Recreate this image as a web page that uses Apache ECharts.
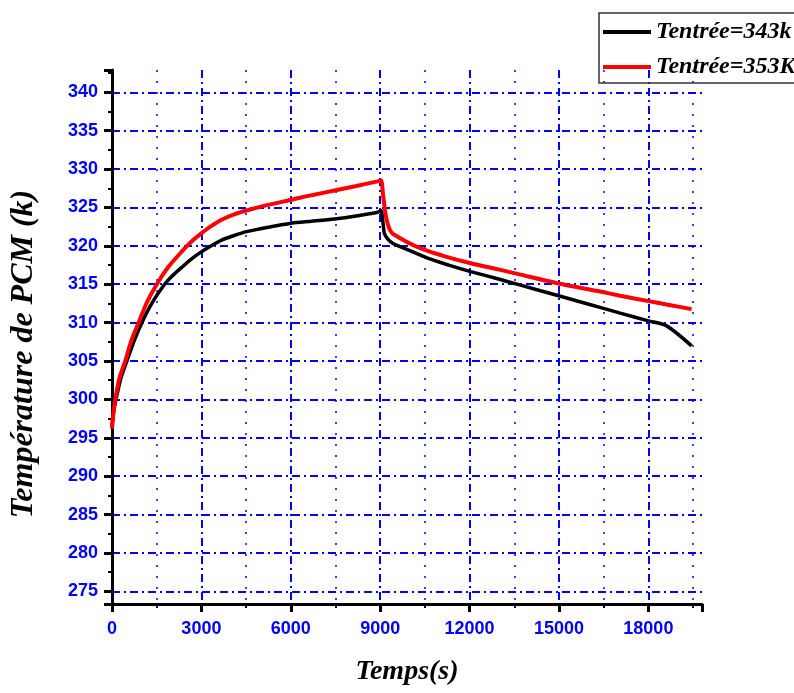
<!DOCTYPE html>
<html>
<head>
<meta charset="utf-8">
<script src="https://cdn.jsdelivr.net/npm/echarts@6/dist/echarts.min.js"></script>
<style>
  html, body { margin: 0; padding: 0; background: #fff; }
  #chart { width: 794px; height: 693px; }
</style>
</head>
<body>
<div id="chart"></div>
<script>
// Tentrée = 343 K (black curve)
const time343 = [0, 60, 134, 300, 500, 750, 1003, 1350, 1728, 2000, 2340, 2650, 3009, 3300, 3678, 4100, 4514, 5200, 6019, 6700, 7467, 8200, 8917, 9030, 9100, 9140, 9250, 9418, 9800, 10590, 11300, 12037, 13000, 13709, 14990, 16000, 17053, 18000, 18614, 19450]
const temp343 = [296.5, 298.5, 300, 302.8, 305, 307.7, 310, 312.6, 314.8, 316.0, 317.2, 318.25, 319.25, 319.95, 320.75, 321.35, 321.85, 322.4, 322.95, 323.2, 323.5, 323.9, 324.38, 324.6, 322.8, 321.65, 320.9, 320.35, 319.7, 318.4, 317.5, 316.65, 315.65, 314.88, 313.5, 312.4, 311.24, 310.23, 309.58, 306.98]

// Tentrée = 353 K (red curve)
const time353 = [0, 50, 110, 250, 445, 650, 892, 1180, 1505, 1900, 2340, 2650, 3009, 3300, 3678, 4100, 4514, 5200, 6019, 6700, 7467, 8200, 8917, 9030, 9100, 9195, 9300, 9418, 9585, 10000, 10400, 11200, 12037, 13000, 13709, 14990, 16384, 17053, 18000, 18700, 19450]
const temp353 = [296.2, 298.3, 300, 302.8, 305, 307.7, 310, 312.7, 315, 317.3, 319.25, 320.5, 321.65, 322.5, 323.4, 324.1, 324.6, 325.3, 326.0, 326.6, 327.2, 327.8, 328.4, 328.5, 326.5, 323.8, 322.3, 321.6, 321.2, 320.3, 319.6, 318.6, 317.74, 316.9, 316.25, 315.1, 314.05, 313.5, 312.8, 312.3, 311.76]

const seriesNames = ['Tentrée=343k', 'Tentrée=353K']
const seriesColors = ['#000000', '#ff0000']

const chart = echarts.init(document.getElementById('chart'))

const toPairs = (xs, ys) => xs.map((x, i) => [x, ys[i]])
const dashDot = [8, 4, 2, 4]
const tickFont = {
  color: '#0000ff',
  fontWeight: 'bold',
  fontSize: 18,
  fontFamily: '"Liberation Sans Narrow", "Arial Narrow", "Liberation Sans", sans-serif'
}
const titleFont = {
  color: '#000',
  fontWeight: 'bold',
  fontStyle: 'italic',
  fontFamily: '"Liberation Serif", "Times New Roman", serif'
}

chart.setOption({
  backgroundColor: '#fff',
  animation: false,
  grid: {
    left: 110,
    right: 92,
    top: 70,
    bottom: 89
  },
  legend: {
    orient: 'vertical',
    left: 599,
    top: 13,
    padding: [6, 6, 3, 4],
    itemGap: 9,
    itemWidth: 48,
    itemHeight: 4,
    icon: 'rect',
    borderColor: '#333',
    borderWidth: 1.5,
    textStyle: Object.assign({}, titleFont, { fontSize: 24, lineHeight: 26 }),
    data: seriesNames
  },
  xAxis: {
    type: 'value',
    min: 0,
    max: 19800,
    interval: 3000,
    name: 'Temps(s)',
    nameLocation: 'middle',
    nameGap: 54,
    nameTextStyle: Object.assign({}, titleFont, { fontSize: 28 }),
    axisLine: { onZero: false, lineStyle: { color: '#000', width: 3 } },
    axisTick: { show: true, length: 8, lineStyle: { color: '#000', width: 3 } },
    minorTick: { show: true, splitNumber: 2, length: 4, lineStyle: { color: '#000', width: 2 } },
    axisLabel: Object.assign({}, tickFont, {
      margin: 16,
      showMaxLabel: false,
      formatter: v => String(v)
    }),
    splitLine: {
      show: true,
      showMinLine: false,
      showMaxLine: false,
      lineStyle: { color: '#0000ff', width: 2, type: dashDot }
    },
    minorSplitLine: {
      show: true,
      lineStyle: { color: '#0000ff', width: 1.5, type: [2, 9] }
    }
  },
  yAxis: {
    type: 'value',
    min: 273.36,
    max: 342.9,
    splitNumber: 14,
    name: 'Température de PCM (k)',
    nameLocation: 'middle',
    nameGap: 72,
    nameRotate: 90,
    nameTextStyle: Object.assign({}, titleFont, { fontSize: 32, padding: [0, 34, 0, 0] }),
    axisLine: { onZero: false, lineStyle: { color: '#000', width: 3 } },
    axisTick: { show: true, length: 8, lineStyle: { color: '#000', width: 3 } },
    minorTick: { show: true, splitNumber: 2, length: 4, lineStyle: { color: '#000', width: 2 } },
    axisLabel: Object.assign({}, tickFont, { margin: 14, showMinLabel: false, showMaxLabel: false }),
    splitLine: {
      show: true,
      showMinLine: false,
      showMaxLine: false,
      lineStyle: { color: '#0000ff', width: 2, type: dashDot }
    },
    minorSplitLine: { show: false }
  },
  series: [
    {
      name: seriesNames[0],
      type: 'line',
      showSymbol: false,
      symbol: 'none',
      smooth: 0.25,
      data: toPairs(time343, temp343),
      lineStyle: { color: seriesColors[0], width: 3.5 },
      itemStyle: { color: seriesColors[0] },
      z: 3
    },
    {
      name: seriesNames[1],
      type: 'line',
      showSymbol: false,
      symbol: 'none',
      smooth: 0.25,
      data: toPairs(time353, temp353),
      lineStyle: { color: seriesColors[1], width: 4 },
      itemStyle: { color: seriesColors[1] },
      z: 4
    }
  ]
})
</script>
</body>
</html>
